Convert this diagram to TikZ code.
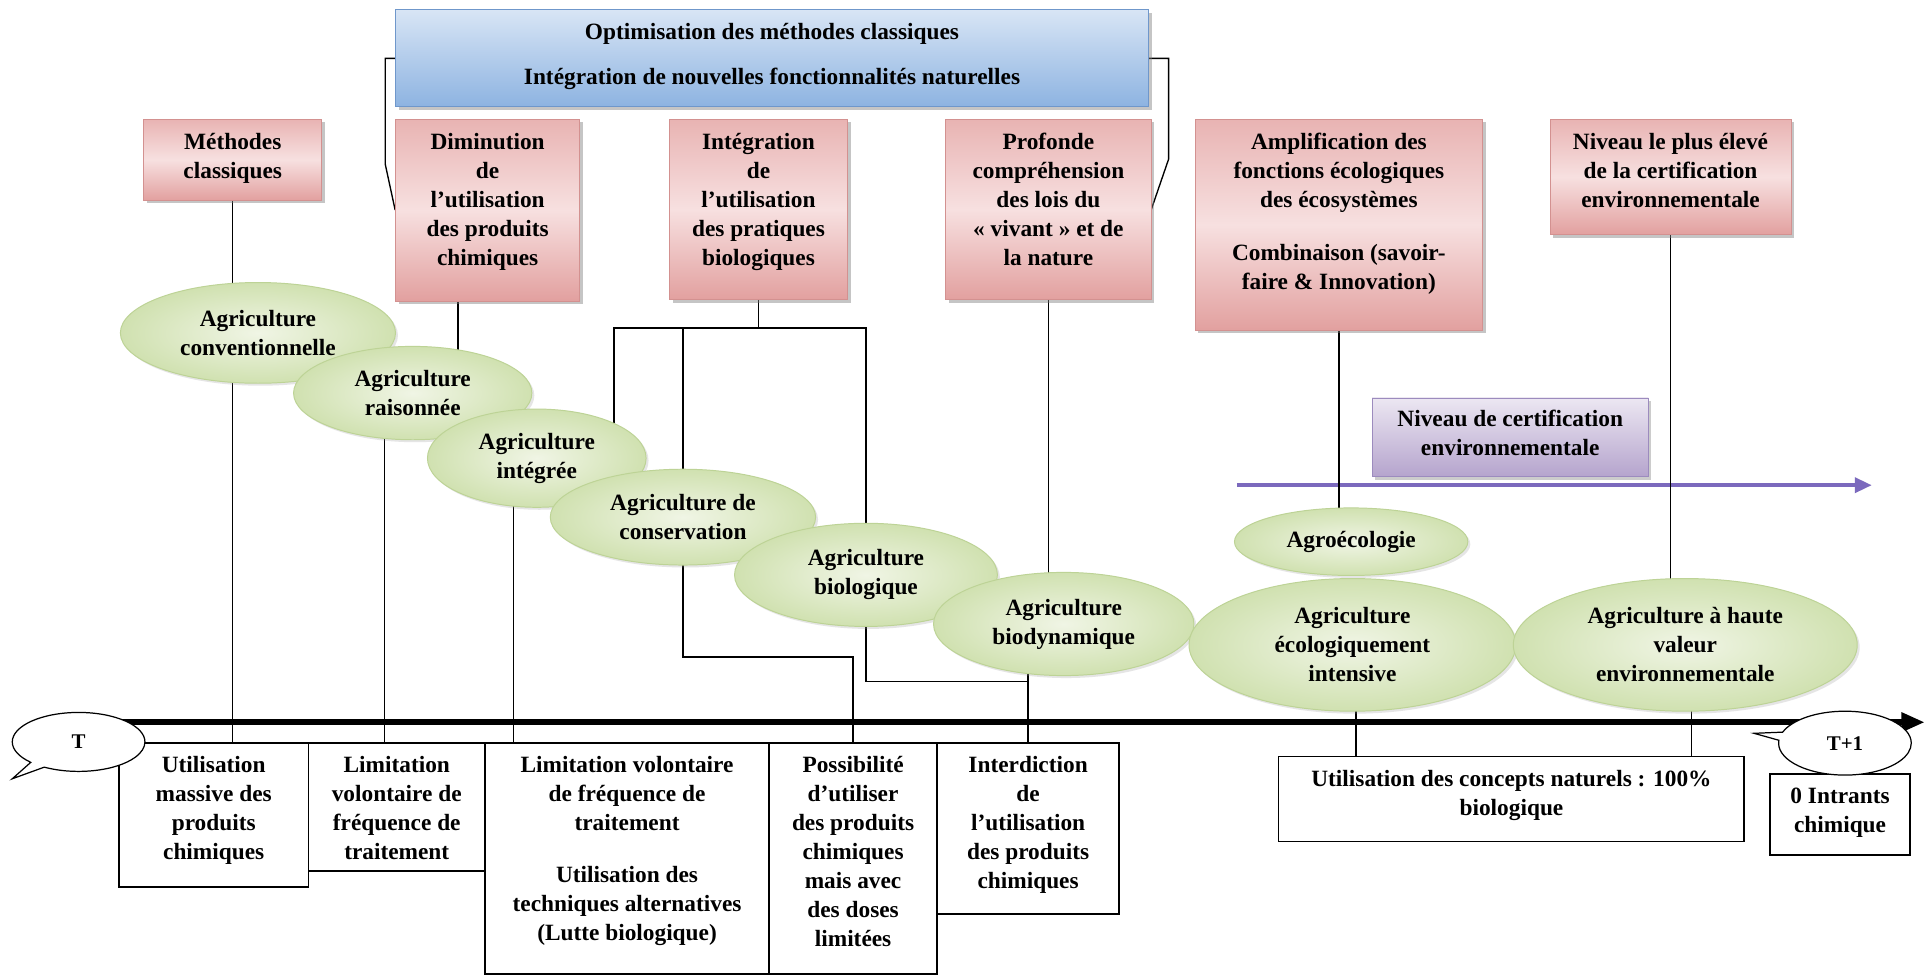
\documentclass[tikz,border=0pt]{standalone}
\usepackage{fontspec}
\setmainfont{Liberation Serif}
\usetikzlibrary{shapes.geometric,shapes.callouts,shadows,arrows.meta}
\definecolor{redA}{HTML}{F7E0E0}
\definecolor{redB}{HTML}{E2A09F}
\definecolor{redD}{HTML}{D39190}
\definecolor{bluA}{HTML}{D8E5F5}
\definecolor{bluB}{HTML}{8DB3E1}
\definecolor{bluD}{HTML}{6F97CB}
\definecolor{grnA}{HTML}{F0F5E5}
\definecolor{grnB}{HTML}{D0E1B0}
\definecolor{grnD}{HTML}{BDD396}
\definecolor{purA}{HTML}{ECE7F2}
\definecolor{purB}{HTML}{B5A4CD}
\definecolor{purD}{HTML}{9C8BBE}
\definecolor{purL}{HTML}{7B69BD}
\pgfdeclarelayer{bg}
\pgfsetlayers{bg,main}
\newcommand{\tb}[4][25]{\parbox[c][#3pt][t]{#2pt}{\centering\rule{0pt}{#1pt}#4}}
\begin{document}
\begin{tikzpicture}[x=1pt,y=-1pt,
  font=\fontsize{19}{23.6}\selectfont\bfseries,
  redbox/.style={draw=redD, line width=0.6pt, inner sep=0pt,
    top color=redB!70!redA, bottom color=redB, middle color=redA,
    drop shadow={shadow xshift=2.5pt,shadow yshift=-2.5pt,fill=black!50,opacity=0.45}},
  bluebox/.style={draw=bluD, line width=0.8pt, inner sep=0pt,
    top color=bluA, bottom color=bluB,
    drop shadow={shadow xshift=2.5pt,shadow yshift=-2.5pt,fill=black!50,opacity=0.45}},
  purbox/.style={draw=purD, line width=0.6pt, inner sep=0pt,
    top color=purA, bottom color=purB,
    drop shadow={shadow xshift=2.5pt,shadow yshift=-2.5pt,fill=black!50,opacity=0.4}},
  whitebox/.style={draw=black, line width=1.2pt, fill=white, inner sep=0pt},
  agri/.style={ellipse, draw=grnD, line width=0.8pt, inner color=grnA, outer color=grnB,
    align=center, inner sep=0pt,
    drop shadow={shadow xshift=2pt,shadow yshift=-2pt,fill=black!40,opacity=0.25}},
  bubble/.style={ellipse callout, draw=black, line width=1pt, fill=white, inner sep=0pt,
    font=\fontsize{17}{20}\selectfont\bfseries},
  conn/.style={draw=black, line width=1.1pt},
  timeline/.style={draw=black, line width=5pt, -{Triangle[length=19pt,width=15pt]}},
  purarrow/.style={draw=purL, line width=3.5pt, -{Triangle[length=14pt,width=12pt]}}
]
\useasboundingbox (0,0) rectangle (1568,796);

% top blue box
\node[bluebox] (blue) at (628.5,47.5) {\tb[24]{613}{79}{Optimisation des méthodes classiques\\[13pt]Intégration de nouvelles fonctionnalités naturelles}};

% red boxes
\node[redbox] (R1) at (189.5,130) {\tb{145}{66}{Méthodes\\classiques}};
\node[redbox] (R2) at (397,171) {\tb{150}{148}{Diminution\\de\\l’utilisation\\des produits\\chimiques}};
\node[redbox] (R3) at (617.5,170.5) {\tb{145}{147}{Intégration\\de\\l’utilisation\\des pratiques\\biologiques}};
\node[redbox] (R4) at (853.5,170.5) {\tb{167}{147}{Profonde\\compréhension\\des lois du\\« vivant » et de\\la nature}};
\node[redbox] (R5) at (1090,183) {\tb{234}{172}{Amplification des\\fonctions écologiques\\des écosystèmes\\[19pt]Combinaison (savoir-\\faire \& Innovation)}};
\node[redbox] (R6) at (1360,144) {\tb{196}{94}{Niveau le plus élevé\\de la certification\\environnementale}};

% purple box
\node[purbox] (P) at (1229.5,356) {\tb[23]{225}{64}{Niveau de certification\\environnementale}};

% bottom boxes
\node[whitebox] (B1) at (174,663.5) {\tb[24]{154}{117}{Utilisation\\massive des\\produits\\chimiques}};
\node[whitebox] (B2) at (323,657) {\tb[24]{144}{104}{Limitation\\volontaire de\\fréquence de\\traitement}};
\node[whitebox] (B3) at (510.5,699) {\tb[24]{231}{188}{Limitation volontaire\\de fréquence de\\traitement\\[19pt]Utilisation des\\techniques alternatives\\(Lutte biologique)}};
\node[whitebox] (B4) at (694.5,699) {\tb[24]{137}{188}{Possibilité\\d’utiliser\\des produits\\chimiques\\mais avec\\des doses\\limitées}};
\node[whitebox] (B5) at (837,674.5) {\tb[24]{148}{139}{Interdiction\\de\\l’utilisation\\des produits\\chimiques}};
\node[whitebox] (B6) at (1230.5,650.5) {\tb[24]{379}{69}{Utilisation des concepts naturels : 100\%\\biologique}};
\node[whitebox] (B7) at (1498,663) {\tb[24]{114}{66}{0 Intrants\\chimique}};

% ellipses
\node[agri, minimum width=224pt, minimum height=82pt] (E1) at (210,271) {Agriculture\\conventionnelle};
\node[agri, minimum width=194pt, minimum height=76pt] (E2) at (336,320) {Agriculture\\raisonnée};
\node[agri, minimum width=178pt, minimum height=80pt] (E3) at (437,373) {Agriculture\\intégrée};
\node[agri, minimum width=216pt, minimum height=78pt] (E4) at (556,421) {Agriculture de\\conservation};
\node[agri, minimum width=214pt, minimum height=84pt] (E5) at (705,468) {Agriculture\\biologique};
\node[agri, minimum width=212pt, minimum height=84pt] (E6) at (866,508) {Agriculture\\biodynamique};
\node[agri, minimum width=190pt, minimum height=55pt] (E7) at (1100,441) {Agroécologie};
\node[agri, minimum width=266pt, minimum height=108pt] (E8) at (1101,525) {Agriculture\\écologiquement\\intensive};
\node[agri, minimum width=280pt, minimum height=108pt] (E9) at (1372,525) {Agriculture à haute\\valeur\\environnementale};

% timeline
\coordinate (t0) at (70,588);
\coordinate (t1) at (1567,588);
\draw[timeline] (t0) -- (t1);

% bubbles
\node[bubble, minimum width=108pt, minimum height=48pt, callout absolute pointer={(10,634)}] (T) at (64,604) {T};
\node[bubble, minimum width=108pt, minimum height=52pt, callout absolute pointer={(1428,597)}] (T1) at (1502,605) {T+1};

% connectors (behind)
\begin{pgfonlayer}{bg}
\fill[white] (0,0) rectangle (1568,796);
\coordinate (p0) at (1007,395);
\coordinate (p1) at (1524,395);
\draw[purarrow] (p0) -- (p1);
% brackets from the blue box
\draw[conn] (blue.west) -- ++(-8,0) -- ++(0,86) -- (R2.west);
\draw[conn] (blue.east) -- ++(16,0) -- ++(0,82) -- (R4.east);
% Methodes
\draw[conn] (R1.south) -- (R1.south |- E1.center);
\draw[conn] (E1.center -| R1.south) -- (R1.south |- B1.north);
% Diminution
\path (R2.south) ++(-24,0) coordinate (c2a);
\draw[conn] (c2a) -- (c2a |- E2.center);
\path (E2.center) ++(-23,0) coordinate (c2b);
\draw[conn] (c2b) -- (c2b |- B2.north);
% integree
\path (E3.center) ++(-19,0) coordinate (c3);
\draw[conn] (c3) -- (c3 |- B3.north);
% Integration bar
\coordinate (barL) at (500,267);
\coordinate (barR) at (705,267);
\draw[conn] (R3.south) -- (R3.south |- barL);
\draw[conn] (barL |- E3.center) -- (barL) -- (barR) -- (barR |- E5.center);
\draw[conn] (E4.center |- barL) -- (E4.center);
% conservation -> B4, biologique -> B5
\draw[conn] (E4.center) -- ++(0,114) -| (B4.north);
\draw[conn] (E5.center) -- ++(0,87) -| (B5.north);
\draw[conn] (E6.center -| B5.north) -- (B5.north);
% Profonde
\draw[conn] (R4.south) -- (R4.south |- E6.center);
% Amplification, Niveau
\draw[conn] (R5.south) -- (R5.south |- E7.center);
\draw[conn] (R6.south) -- (R6.south |- E9.center);
% bottom right
\path (E8.center) ++(3,0) coordinate (c8);
\draw[conn] (c8) -- (c8 |- B6.north);
\path (E9.center) ++(5,0) coordinate (c9);
\draw[conn] (c9) -- (c9 |- B6.north);
\end{pgfonlayer}
\end{tikzpicture}
\end{document}
